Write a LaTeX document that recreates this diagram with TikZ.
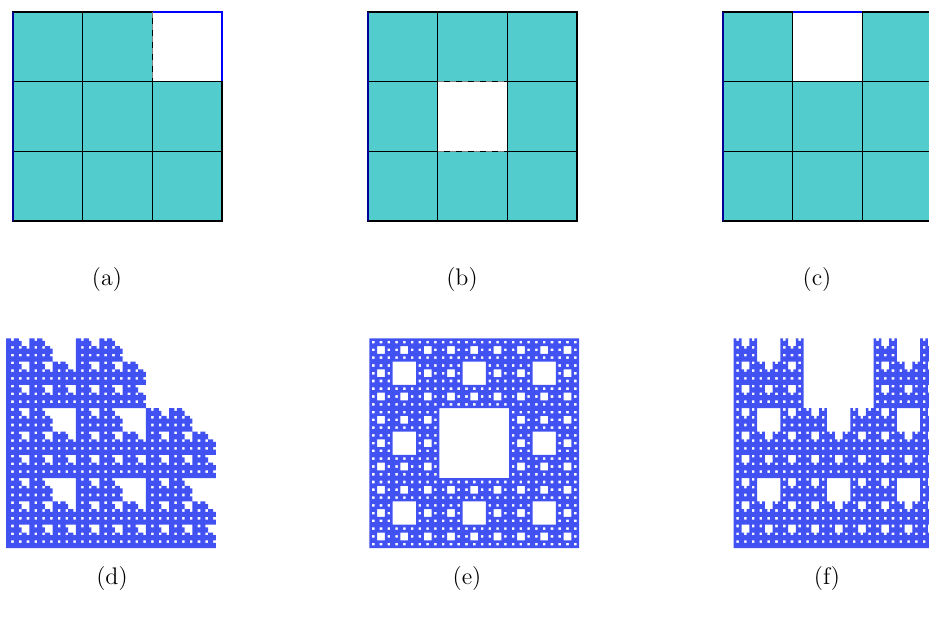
\documentclass[tikz,border=0pt]{standalone}
\usepackage{tikz}
\usepackage{xcolor}

\definecolor{cellcol}{RGB}{82,204,204}

\makeatletter
\newdimen\fracox \newdimen\fracoy \newdimen\fracu
\newdimen\fracdx \newdimen\fracdy \newdimen\fracds
\fracu=1.29012pt
\newcommand\fracrect[3]{%
  \fracdx=\dimexpr\fracox+#1\fracu\relax
  \fracdy=\dimexpr-\fracoy-#2\fracu-#3\fracu\relax
  \fracds=#3\fracu
  \pgfsys@invoke{\pgf@sys@tonumber\fracdx\space\pgf@sys@tonumber\fracdy\space\pgf@sys@tonumber\fracds\space\pgf@sys@tonumber\fracds\space re}}
\newcommand\fracbegin{\pgfsys@invoke{q 0.259 0.322 0.949 rg}}
\newcommand\fracend{\pgfsys@invoke{f Q}}
\makeatother

\newcommand\fracpart[6]{%
  \ifnum\numexpr(#5-\hx)*(#5-\hx)+(#6-\hy)*(#6-\hy)\relax>0
    \edef\fracnext{\noexpand\fracsq{\the\numexpr#1-1\relax}{\the\numexpr#2+#5*#4/3\relax}{\the\numexpr#3+#6*#4/3\relax}{\the\numexpr#4/3\relax}}%
    \expandafter\fracnext
  \fi}
\newcommand\fracsq[4]{%
  \ifnum#1=0
    \fracrect{#2}{#3}{#4}%
  \else
    \fracpart{#1}{#2}{#3}{#4}{0}{0}\fracpart{#1}{#2}{#3}{#4}{1}{0}\fracpart{#1}{#2}{#3}{#4}{2}{0}%
    \fracpart{#1}{#2}{#3}{#4}{0}{1}\fracpart{#1}{#2}{#3}{#4}{1}{1}\fracpart{#1}{#2}{#3}{#4}{2}{1}%
    \fracpart{#1}{#2}{#3}{#4}{0}{2}\fracpart{#1}{#2}{#3}{#4}{1}{2}\fracpart{#1}{#2}{#3}{#4}{2}{2}%
  \fi}

\begin{document}
\begin{tikzpicture}[x=0.5pt, y=-0.5pt, lbl/.style={font=\fontsize{12}{14}\selectfont}]
  \useasboundingbox (0,0) rectangle (929,616);
  \clip (0,0) rectangle (929,616);
  \foreach \ox/\hx/\hy in {13/2/0, 368/1/1, 723/1/0} {
    \draw[blue, line width=0.6pt] (\ox,12) rectangle ++(209,209);
    \foreach \i in {0,1,2} {
      \foreach \j in {0,1,2} {
        \ifnum\numexpr(\i-\hx)*(\i-\hx)+(\j-\hy)*(\j-\hy)\relax>0
          \filldraw[fill=cellcol, draw=black, line width=0.6pt] (\ox+\i*69.67,12+\j*69.67) rectangle ++(69.67,69.67);
        \fi
      }
    }
    \draw[blue!60!black, line width=0.6pt] (\ox,12) -- ++(0,209);
  }
  \draw[gray, dashed, line width=0.6pt] (13+2*69.67,12) -- ++(0,69.67);
  \draw[gray, dashed, line width=0.6pt] (368+69.67,12+69.67) -- ++(69.67,0);
  \draw[gray, dashed, line width=0.6pt] (368+69.67,12+2*69.67) -- ++(69.67,0);
  \node[lbl] (lbla) at (107,280) {(a)};
  \node[lbl] (lblb) at (462,280) {(b)};
  \node[lbl] (lblc) at (817,280) {(c)};
  \fracoy=168.5pt
  \foreach \ox/\hx/\hy in {6/2/0, 368/1/1, 731/1/0} {
    \fracox=\dimexpr\ox pt/2\relax
    \fracbegin
    \fracsq{4}{0}{0}{81}
    \fracend
  }
  \node[lbl] (lbld) at (112,578) {(d)};
  \node[lbl] (lble) at (467,578) {(e)};
  \node[lbl] (lblf) at (827,578) {(f)};
\end{tikzpicture}
\end{document}
